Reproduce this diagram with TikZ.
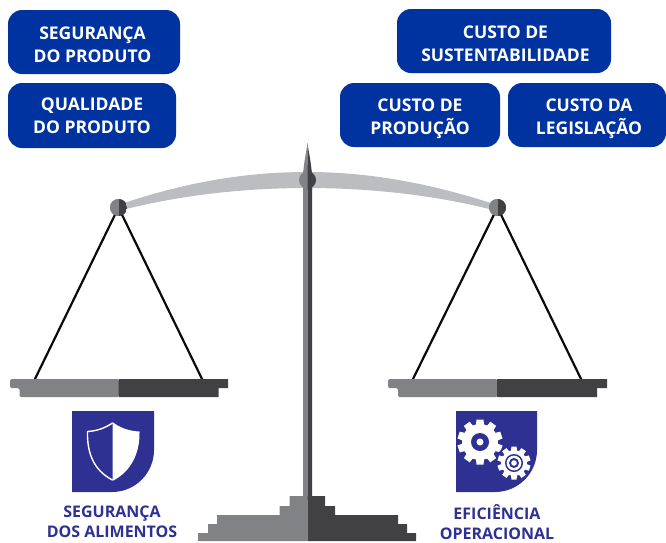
\documentclass[tikz,border=0pt]{standalone}
\usepackage{fontspec}
\setmainfont{Open Sans}
\definecolor{boxblue}{HTML}{0033A0}
\definecolor{badge}{HTML}{2E3191}
\definecolor{lightgrey}{HTML}{808285}
\definecolor{darkgrey}{HTML}{414042}
\definecolor{beamgrey}{HTML}{BCBDC0}
\tikzset{
  cost/.style={fill=boxblue,rounded corners=14pt,inner sep=0pt,minimum height=64pt},
  costtext/.style={text=white,font=\fontsize{17.5}{23}\selectfont\bfseries,align=center,inner sep=0pt},
  caption/.style={text=badge,font=\fontsize{16}{20.5}\selectfont\bfseries,align=center,inner sep=0pt},
  rope/.style={draw=black!85!darkgrey,line width=2.2pt},
  pivot/.style={circle,minimum size=17pt,inner sep=0pt,path picture={
    \fill[lightgrey] (path picture bounding box.south west) rectangle (path picture bounding box.north);
    \fill[darkgrey] (path picture bounding box.south) rectangle (path picture bounding box.north east);}},
}
\newcommand{\gearpath}[5]{% x y rout rin teeth
  \foreach \k in {1,...,#5}{
    \fill[white,rotate around={\k*360/#5:(#1,#2)}] (#1-#3*0.22,#2) -- (#1-#3*0.16,#2-#3) -- (#1+#3*0.16,#2-#3) -- (#1+#3*0.22,#2) -- cycle;
  }
  \fill[white] (#1,#2) circle[radius=#4];
}
\begin{document}
\begin{tikzpicture}[x=1pt,y=-1pt]
\useasboundingbox (0,0) rectangle (666,542);
\node[cost,minimum width=172pt,label={[costtext,xshift=-1.5pt,yshift=-2.5pt]center:SEGURANÇA\\DO PRODUTO}] (seg) at (94,42) {};
\node[cost,minimum width=168pt,minimum height=65pt,label={[costtext,yshift=-0.5pt]center:QUALIDADE\\DO PRODUTO}] (qual) at (92,115.5) {};
\node[cost,minimum width=214pt,label={[costtext,xshift=1.5pt,yshift=-2.5pt]center:CUSTO DE\\SUSTENTABILIDADE}] (sust) at (504,41) {};
\node[cost,minimum width=160pt,label={[costtext,yshift=-3.5pt]center:CUSTO DE\\PRODUÇÃO}] (prod) at (420,115) {};
\node[cost,minimum width=158pt,label={[costtext,xshift=2pt,yshift=-3.5pt]center:CUSTO DA\\LEGISLAÇÃO}] (leg) at (587,115) {};
% beam
\fill[beamgrey] (118,205) .. controls (180,184) and (240,172) .. (307,172)
  .. controls (374,172) and (436,185) .. (497,205)
  -- (497,211) .. controls (440,196) and (374,188) .. (307,188)
  .. controls (240,188) and (176,196) .. (118,211) -- cycle;
% ropes
\node[pivot] (lball) at (118.5,207.5) {};
\node[pivot] (rball) at (497.5,207.5) {};
\coordinate (la) at (34,381);
\coordinate (lb) at (203,381);
\coordinate (ra) at (412,381);
\coordinate (rb) at (582,381);
\draw[rope] (lball.center) -- (la);
\draw[rope] (lball.center) -- (lb);
\draw[rope] (rball.center) -- (ra);
\draw[rope] (rball.center) -- (rb);
\node[pivot] at (118.5,207.5) {};
\node[pivot] at (497.5,207.5) {};
% pans
\fill[lightgrey,rounded corners=1.5pt] (119,379) -| (10,388) -| (19.5,397) -- (119,397) -- cycle;
\fill[darkgrey] (118.5,379) -- (228,379) -- (228,388) -- (218.5,388) -- (218.5,397) -- (118.5,397) -- cycle;
\fill[lightgrey,rounded corners=1.5pt] (497.5,379) -| (388,388) -| (398,397) -- (497.5,397) -- cycle;
\fill[darkgrey] (497,379) -- (607,379) -- (607,388) -- (597,388) -- (597,397) -- (497,397) -- cycle;
% pole
\fill[lightgrey] (307.5,143) .. controls (306,155) and (303,165) .. (303,180) -- (303,500) -- (307.5,500) -- cycle;
\fill[darkgrey] (307.5,143) .. controls (309,155) and (312,165) .. (312,180) -- (312,500) -- (307.5,500) -- cycle;
\node[pivot] (cball) at (307.5,180) {};
\fill[lightgrey] (307.5,165) -- (303,172) -- (303,190) -- (307.5,190) -- cycle;
\fill[darkgrey] (307.5,165) -- (312,172) -- (312,190) -- (307.5,190) -- cycle;
% base
\fill[lightgrey] (307.5,541) -- (198,541) -- (198,533) -- (208,533) -- (208,524) -- (217,524) -- (217,515) -- (279.5,515) -- (279.5,506) -- (289.5,506) -- (289.5,496) -- (307.5,496) -- cycle;
\fill[darkgrey] (307.5,541) -- (416,541) -- (416,533) -- (407,533) -- (407,524) -- (398,524) -- (398,515) -- (335,515) -- (335,506) -- (325,506) -- (325,496) -- (307.5,496) -- cycle;
% badges
\fill[badge] (72,411) -- (154,411) -- (154,450) arc[start angle=0,end angle=90,radius=42] -- (72,492) -- cycle;
\fill[badge] (456,411) -- (537,411) -- (537,450) arc[start angle=0,end angle=90,radius=42] -- (456,492) -- cycle;
% shield
\draw[white,line width=1.4pt,line join=round] (112.5,423) .. controls (105,428) and (97,431) .. (87.5,431.5) .. controls (87,452) and (93,470) .. (112.5,480);
\fill[white] (112.5,422) .. controls (120,428) and (129,431) .. (139.5,431.5) .. controls (140,452) and (132,471) .. (112.5,481) -- cycle;
% gears
\gearpath{480}{442}{22.5}{18}{10}
\fill[badge] (480,442) circle[radius=9];
\fill[white] (480,442) circle[radius=3.5];
\fill[badge] (514,463) circle[radius=18.5];
\gearpath{514}{463}{16.5}{13}{10}
\fill[badge] (514,463) circle[radius=9];
\fill[white] (514,463) circle[radius=7.4];
\fill[badge] (514,463) circle[radius=5];
\fill[white] (514,463) circle[radius=2.8];
% captions
\node[caption] (c1) at (112,522) {SEGURANÇA\\DOS ALIMENTOS};
\node[caption] (c2) at (497,522) {EFICIÊNCIA\\OPERACIONAL};
\end{tikzpicture}
\end{document}
